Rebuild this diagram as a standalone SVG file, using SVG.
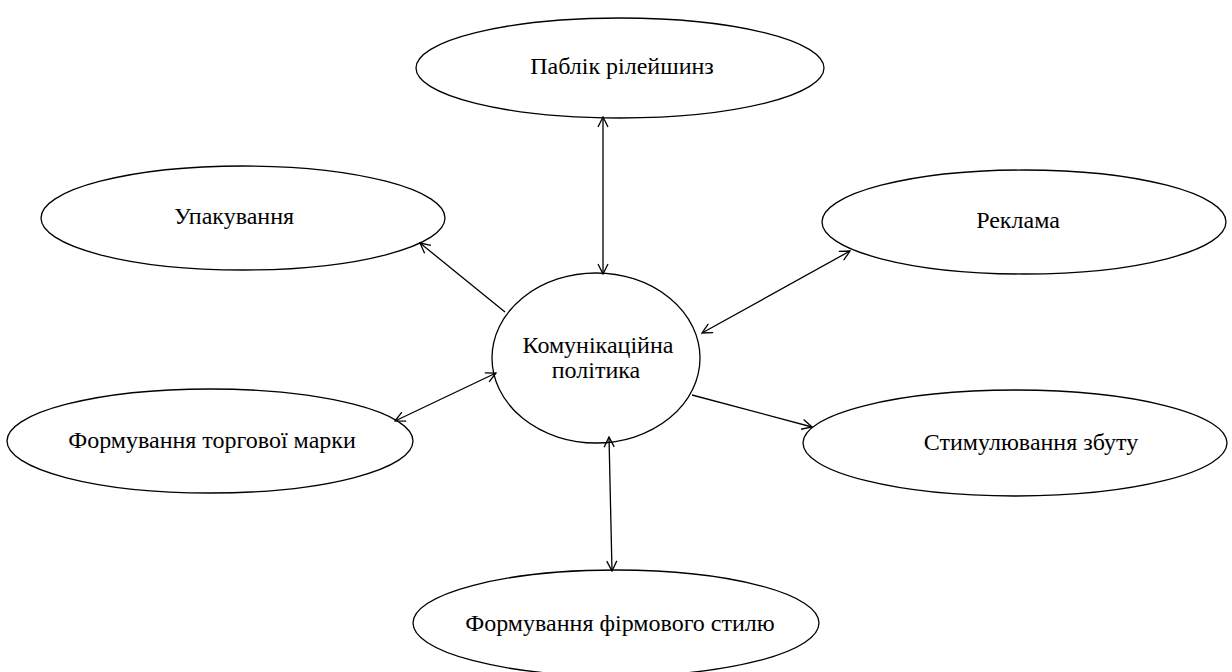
<svg xmlns="http://www.w3.org/2000/svg" width="1232" height="672" viewBox="0 0 1232 672">
<style>
.n ellipse{fill:#fff;stroke:#000;stroke-width:1.3}
.n text{font-family:"Liberation Serif","Times New Roman",serif;font-size:24px;fill:#000;text-anchor:middle}
#edges line{stroke:#000;stroke-width:1.3;fill:none}
</style>
<defs>
<marker id="a" viewBox="0 0 12 12" refX="11" refY="6" markerWidth="12" markerHeight="12" markerUnits="userSpaceOnUse" orient="auto-start-reverse">
<path d="M1,1 L11,6 L1,11" fill="none" stroke="#000" stroke-width="1.3"/>
</marker>
</defs>
<rect width="1232" height="672" fill="#fff"/>
<g id="n-pr" class="n"><ellipse cx="620" cy="68" rx="204" ry="50"/><text x="622" y="74">Паблік рілейшинз</text></g>
<g id="n-pack" class="n"><ellipse cx="243" cy="218" rx="202" ry="52"/><text x="234" y="224">Упакування</text></g>
<g id="n-ad" class="n"><ellipse cx="1024" cy="222" rx="202" ry="52"/><text x="1018" y="228">Реклама</text></g>
<g id="n-center" class="n"><ellipse cx="596" cy="358" rx="104" ry="85"/><text x="598" y="353">Комунікаційна</text><text x="596" y="378">політика</text></g>
<g id="n-brand" class="n"><ellipse cx="210" cy="441" rx="203" ry="52"/><text x="212" y="448">Формування торгової марки</text></g>
<g id="n-promo" class="n"><ellipse cx="1015" cy="443" rx="212" ry="53"/><text x="1031" y="450">Стимулювання збуту</text></g>
<g id="n-style" class="n"><ellipse cx="616" cy="623" rx="203" ry="53"/><text x="620" y="631">Формування фірмового стилю</text></g>
<g id="edges">
<line x1="603" y1="117" x2="603" y2="274" marker-start="url(#a)" marker-end="url(#a)"/>
<line x1="505" y1="312" x2="420" y2="243" marker-end="url(#a)"/>
<line x1="702" y1="333" x2="850" y2="251" marker-start="url(#a)" marker-end="url(#a)"/>
<line x1="395" y1="421" x2="496" y2="373" marker-start="url(#a)" marker-end="url(#a)"/>
<line x1="692" y1="395" x2="812" y2="427" marker-end="url(#a)"/>
<line x1="609" y1="437" x2="612" y2="571" marker-start="url(#a)" marker-end="url(#a)"/>
</g>
</svg>
